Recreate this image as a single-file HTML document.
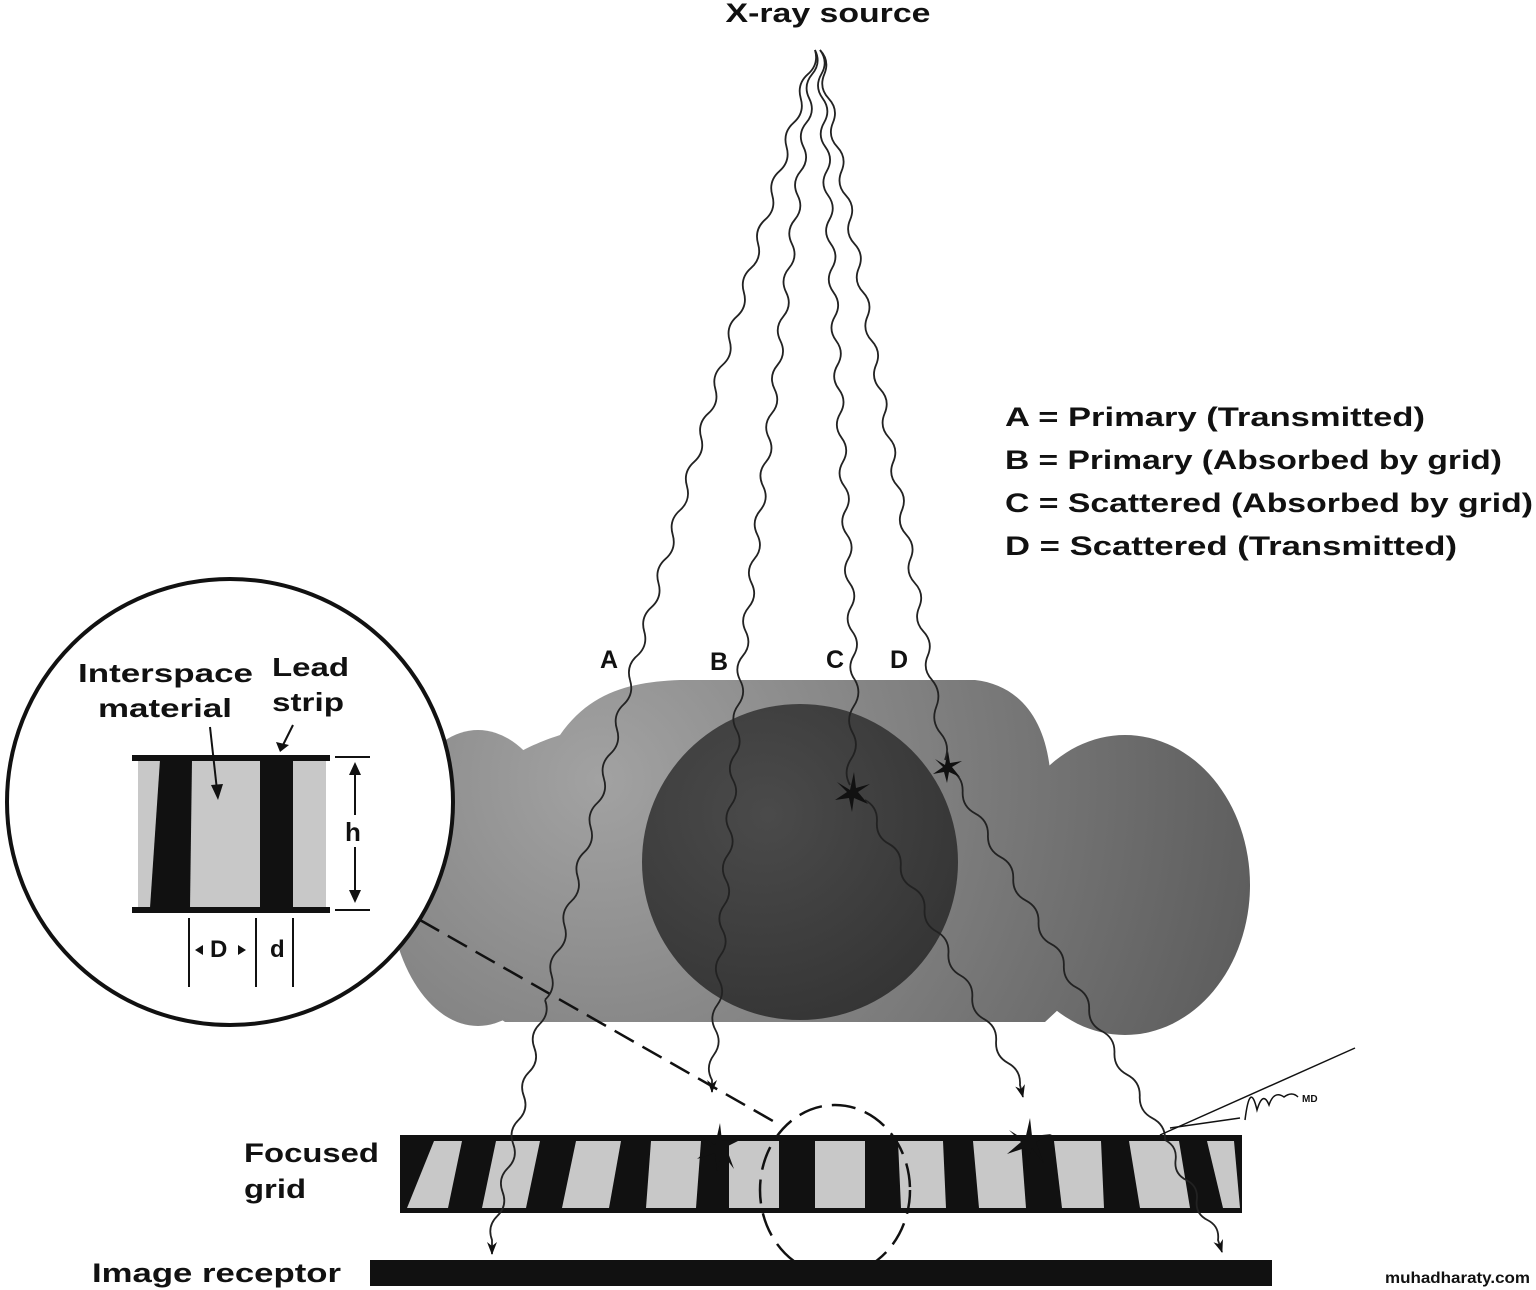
<!DOCTYPE html>
<html><head><meta charset="utf-8"><style>
html,body{margin:0;padding:0;background:#fff}
svg{display:block}
text{font-family:"Liberation Sans",sans-serif;font-weight:bold;fill:#111}
</style></head><body>
<svg width="1536" height="1290" viewBox="0 0 1536 1290" xmlns="http://www.w3.org/2000/svg">
<defs>
<radialGradient id="bg" gradientUnits="userSpaceOnUse" cx="600" cy="780" r="700">
<stop offset="0" stop-color="#a2a2a2"/><stop offset="0.55" stop-color="#7a7a7a"/><stop offset="1" stop-color="#5a5a5a"/>
</radialGradient>
<radialGradient id="sg" cx="0.4" cy="0.35" r="0.7">
<stop offset="0" stop-color="#444"/><stop offset="1" stop-color="#2e2e2e"/>
</radialGradient>
<marker id="ar" markerWidth="14" markerHeight="10" refX="12" refY="5" orient="auto" markerUnits="userSpaceOnUse">
<path d="M0 0 L13 5 L0 10 L4 5 Z" fill="#111"/>
</marker>
</defs>

<!-- body -->
<g fill="url(#bg)">
<path d="M440 860 C460 770 530 745 560 735 C590 692 630 682 680 680 L975 680 C1020 685 1045 720 1050 770 L1090 980 L1045 1022 L505 1022 C470 1000 445 930 440 860 Z"/>
<ellipse cx="478" cy="878" rx="90" ry="148"/>
<ellipse cx="1125" cy="885" rx="125" ry="150"/>
</g>
<circle cx="800" cy="862" r="158" fill="url(#sg)" opacity="0.92"/>

<!-- inset circle -->
<circle cx="230" cy="802" r="223" fill="#fff" stroke="#111" stroke-width="4"/>
<rect x="138" y="760" width="188" height="150" fill="#c8c8c8"/>
<polygon points="160,760 192,760 190,908 150,908" fill="#111"/>
<rect x="260" y="760" width="33" height="150" fill="#111"/>
<rect x="132" y="755" width="198" height="6" fill="#111"/>
<rect x="132" y="907" width="198" height="6" fill="#111"/>
<line x1="335" y1="757" x2="370" y2="757" stroke="#111" stroke-width="2"/>
<line x1="335" y1="910" x2="370" y2="910" stroke="#111" stroke-width="2"/>
<line x1="355" y1="765" x2="355" y2="815" stroke="#111" stroke-width="2"/>
<line x1="355" y1="847" x2="355" y2="900" stroke="#111" stroke-width="2"/>
<path d="M349 775 L355 762 L361 775 Z M349 890 L355 903 L361 890 Z" fill="#111"/>
<text x="345" y="841" font-size="26">h</text>
<line x1="189" y1="918" x2="189" y2="987" stroke="#111" stroke-width="2"/>
<line x1="256" y1="918" x2="256" y2="987" stroke="#111" stroke-width="2"/>
<line x1="293" y1="918" x2="293" y2="987" stroke="#111" stroke-width="2"/>
<text x="210" y="957" font-size="24">D</text>
<path d="M203 945 L195 950 L203 955 Z M238 945 L246 950 L238 955 Z" fill="#111"/>
<text x="270" y="957" font-size="24">d</text>
<text x="78" y="682" font-size="26" textLength="175" lengthAdjust="spacingAndGlyphs">Interspace</text>
<text x="98" y="717" font-size="26" textLength="134" lengthAdjust="spacingAndGlyphs">material</text>
<text x="272" y="676" font-size="26" textLength="77" lengthAdjust="spacingAndGlyphs">Lead</text>
<text x="272" y="711" font-size="26" textLength="72" lengthAdjust="spacingAndGlyphs">strip</text>
<line x1="210" y1="727" x2="217" y2="790" stroke="#111" stroke-width="2"/>
<path d="M211 785 L218 800 L223 784 Z" fill="#111"/>
<line x1="293" y1="725" x2="283" y2="745" stroke="#111" stroke-width="2"/>
<path d="M276 742 L280 752 L289 745 Z" fill="#111"/>

<!-- dashed -->
<line x1="420" y1="920" x2="780" y2="1125" stroke="#111" stroke-width="2.5" stroke-dasharray="22 10"/>

<!-- grid -->
<rect x="400" y="1135" width="842" height="78" fill="#111"/>
<g fill="#c8c8c8">
<polygon points="434,1141 462,1141 448,1208 407,1208"/>
<polygon points="496,1141 540,1141 526,1208 482,1208"/>
<polygon points="576,1141 621,1141 609,1208 562,1208"/>
<polygon points="651,1141 701,1141 696,1208 646,1208"/>
<polygon points="729,1141 779,1141 779,1208 729,1208"/>
<polygon points="815,1141 865,1141 865,1208 815,1208"/>
<polygon points="898,1141 943,1141 946,1208 901,1208"/>
<polygon points="973,1141 1021,1141 1026,1208 979,1208"/>
<polygon points="1054,1141 1101,1141 1104,1208 1062,1208"/>
<polygon points="1129,1141 1179,1141 1190,1208 1140,1208"/>
<polygon points="1207,1141 1234,1141 1240,1208 1223,1208"/>
</g>
<ellipse cx="835" cy="1190" rx="75" ry="85" fill="none" stroke="#111" stroke-width="2.5" stroke-dasharray="24 10"/>
<rect x="370" y="1260" width="902" height="26" fill="#111"/>

<!-- rays -->
<g fill="none" stroke="#222" stroke-width="1.8">
<path d="M815 50 q4.11 14.38 -7.115 24.23 t-7.115 24.23 t-7.115 24.23 t-7.115 24.23 t-7.115 24.23 t-7.115 24.23 t-7.115 24.23 t-7.115 24.23 t-7.115 24.23 t-7.115 24.23 t-7.115 24.23 t-7.115 24.23 t-7.115 24.23 t-7.115 24.23 t-7.115 24.23 t-7.115 24.23 t-7.115 24.23 t-7.115 24.23 t-7.115 24.23 t-7.115 24.23 t-7.115 24.23 t-7.115 24.23 t-7.115 24.23 t-7.115 24.23 t-7.115 24.23 t-7.115 24.23"/>
<path d="M630 680 q4.46 14.35 -6.54 24.6 t-6.54 24.6 t-6.54 24.6 t-6.54 24.6 t-6.54 24.6 t-6.54 24.6 t-6.54 24.6 t-6.54 24.6 t-6.54 24.6 t-6.54 24.6 t-6.54 24.6 t-6.54 24.6 t-6.54 24.6"/>
<path d="M545 1000 q5.15 13.73 -5.3 24 t-5.3 24 t-5.3 24 t-5.3 24 t-5.3 24 t-5.3 24 t-5.3 24 t-5.3 24 t-5.3 24 t-5.3 24 l0 14" marker-end="url(#ar)"/>

<path d="M815 50 q6.5 13.07 -2.885 24.23 t-2.885 24.23 t-2.885 24.23 t-2.885 24.23 t-2.885 24.23 t-2.885 24.23 t-2.885 24.23 t-2.885 24.23 t-2.885 24.23 t-2.885 24.23 t-2.885 24.23 t-2.885 24.23 t-2.885 24.23 t-2.885 24.23 t-2.885 24.23 t-2.885 24.23 t-2.885 24.23 t-2.885 24.23 t-2.885 24.23 t-2.885 24.23 t-2.885 24.23 t-2.885 24.23 t-2.885 24.23 t-2.885 24.23 t-2.885 24.23 t-2.885 24.23"/>
<path d="M740 680 q7.1 13.06 -1.75 25 t-1.75 25 t-1.75 25 t-1.75 25 t-1.75 25 t-1.75 25 t-1.75 25 t-1.75 25 t-1.75 25 t-1.75 25 t-1.75 25 t-1.75 25 t-1.75 25 t-1.75 25 t-1.75 25 t-1.75 25 l0 12" marker-end="url(#ar)"/>

<path d="M820 50 q8.66 11.68 1.346 24.23 t1.346 24.23 t1.346 24.23 t1.346 24.23 t1.346 24.23 t1.346 24.23 t1.346 24.23 t1.346 24.23 t1.346 24.23 t1.346 24.23 t1.346 24.23 t1.346 24.23 t1.346 24.23 t1.346 24.23 t1.346 24.23 t1.346 24.23 t1.346 24.23 t1.346 24.23 t1.346 24.23 t1.346 24.23 t1.346 24.23 t1.346 24.23 t1.346 24.23 t1.346 24.23 t1.346 24.23 t1.346 24.23"/>
<path d="M855 680 q7.4 13.1 -1.25 26.25 t-1.25 26.25 t-1.25 26.25 t-1.25 26.25"/>
<path d="M865 800 q12.98 7.14 11.92 21.92 t11.92 21.92 t11.92 21.92 t11.92 21.92 t11.92 21.92 t11.92 21.92 t11.92 21.92 t11.92 21.92 t11.92 21.92 t11.92 21.92 t11.92 21.92 t11.92 21.92 t11.92 21.92 l3 12" marker-end="url(#ar)"/>

<path d="M820 50 q10.03 10.72 4.31 24.23 t4.31 24.23 t4.31 24.23 t4.31 24.23 t4.31 24.23 t4.31 24.23 t4.31 24.23 t4.31 24.23 t4.31 24.23 t4.31 24.23 t4.31 24.23 t4.31 24.23 t4.31 24.23 t4.31 24.23 t4.31 24.23 t4.31 24.23 t4.31 24.23 t4.31 24.23 t4.31 24.23 t4.31 24.23 t4.31 24.23 t4.31 24.23 t4.31 24.23 t4.31 24.23 t4.31 24.23 t4.31 24.23"/>
<path d="M932 680 q10.07 12.03 4.33 26.67 t4.33 26.67 t4.33 26.67"/>
<path d="M950 770 q13.24 6.86 12.65 21.76 t12.65 21.76 t12.65 21.76 t12.65 21.76 t12.65 21.76 t12.65 21.76 t12.65 21.76 t12.65 21.76 t12.65 21.76 t12.65 21.76 t12.65 21.76 t12.65 21.76 t12.65 21.76 t12.65 21.76 t12.65 21.76 t12.65 21.76 t12.65 21.76"/>
<path d="M1165 1140 q12.37 6.25 10.6 20 t10.6 20 t10.6 20 t10.6 20 t10.6 20 l4 12" marker-end="url(#ar)"/>
</g>

<!-- stars -->
<g fill="#111">
<path d="M850 790 l4 -18 l2 16 l14 -4 l-12 8 l10 12 l-14 -6 l-2 14 l-3 -14 l-14 2 l12 -8 l-10 -10 z"/>
<path d="M945 765 l3 -14 l2 12 l12 -2 l-10 6 l8 10 l-11 -5 l-2 11 l-3 -11 l-11 2 l10 -7 l-8 -8 z"/>
<path d="M715 1145 l5 -22 l2 18 l20 -2 l-16 8 l8 22 l-12 -16 l-5 18 l-2 -18 l-18 6 l14 -12 l-12 -12 z"/>
<path d="M1025 1140 l5 -22 l2 18 l20 -2 l-16 8 l8 22 l-12 -16 l-5 18 l-2 -18 l-18 6 l14 -12 l-12 -12 z"/>
</g>

<!-- signature -->
<g fill="none" stroke="#111" stroke-width="1.5">
<path d="M1160 1135 L1355 1048"/>
<path d="M1170 1128 L1240 1118"/>
<path d="M1245 1120 q5 -40 12 -10 q6 -20 12 -5 q5 -15 15 -8 q8 -6 14 0"/>
</g>
<text x="1302" y="1102" font-size="10">MD</text>

<!-- labels -->
<text x="828" y="22" font-size="27" text-anchor="middle" textLength="205" lengthAdjust="spacingAndGlyphs">X-ray source</text>
<text x="600" y="668" font-size="25">A</text>
<text x="710" y="670" font-size="25">B</text>
<text x="826" y="668" font-size="25">C</text>
<text x="890" y="668" font-size="25">D</text>
<text x="1005" y="426" font-size="27" textLength="420" lengthAdjust="spacingAndGlyphs">A = Primary (Transmitted)</text>
<text x="1005" y="469" font-size="27" textLength="497" lengthAdjust="spacingAndGlyphs">B = Primary (Absorbed by grid)</text>
<text x="1005" y="512" font-size="27" textLength="528" lengthAdjust="spacingAndGlyphs">C = Scattered (Absorbed by grid)</text>
<text x="1005" y="555" font-size="27" textLength="452" lengthAdjust="spacingAndGlyphs">D = Scattered (Transmitted)</text>
<text x="244" y="1162" font-size="27" textLength="135" lengthAdjust="spacingAndGlyphs">Focused</text>
<text x="244" y="1198" font-size="27" textLength="62" lengthAdjust="spacingAndGlyphs">grid</text>
<text x="92" y="1282" font-size="27" textLength="249" lengthAdjust="spacingAndGlyphs">Image receptor</text>
<text x="1385" y="1283" font-size="16" textLength="145" lengthAdjust="spacingAndGlyphs">muhadharaty.com</text>
</svg>
</body></html>
